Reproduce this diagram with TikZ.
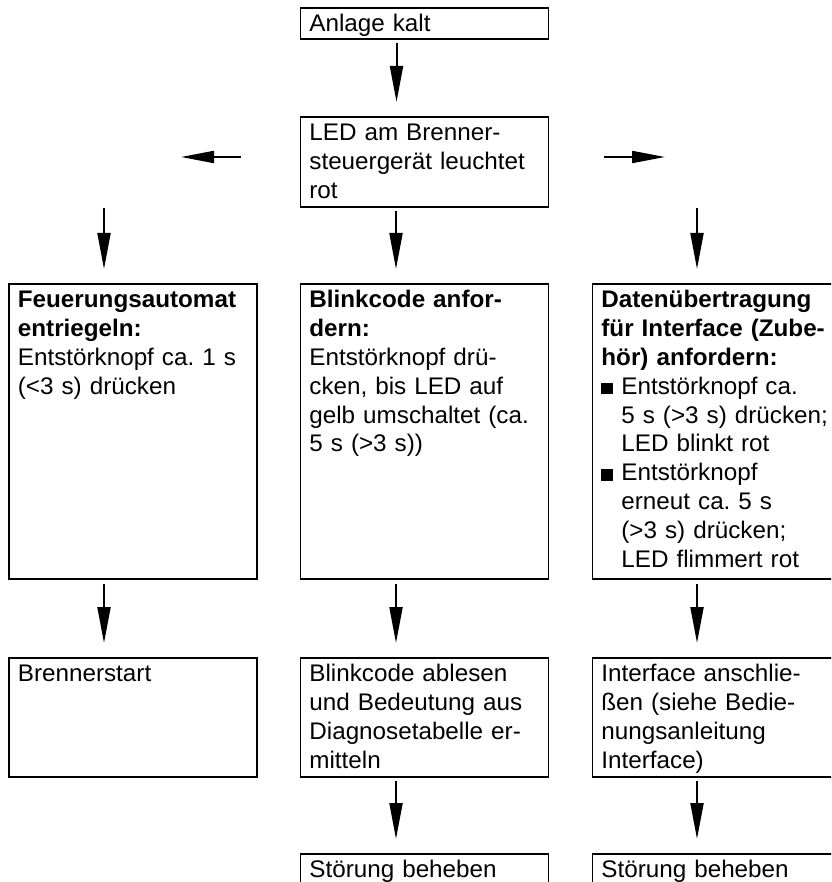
\documentclass[tikz,border=0pt]{standalone}
\usepackage{fontspec}
\setmainfont{Liberation Sans}[FakeStretch=1.01]
\usetikzlibrary{arrows.meta}
\newcommand{\sqitem}{\makebox[20pt][l]{\rule{11.5pt}{11.5pt}}}
\newcommand{\sqskip}{\hspace*{20pt}}

\begin{document}
\begin{tikzpicture}[x=1pt,y=-1pt,
    box/.style={draw, line width=1.8pt, anchor=north west, inner xsep=9pt, inner ysep=0pt,
      text width=230pt, align=left, text height=24pt, font=\fontsize{24}{28.8}\selectfont\frenchspacing},
    wide/.style={text width=260pt},
    arr/.style={line width=2pt, -{Triangle[length=36pt,width=13pt]}},
    sidearr/.style={line width=2pt, -{Triangle[length=33pt,width=12pt]}}]
    \useasboundingbox (0,0) rectangle (831,882);
    \clip (0,0) rectangle (831,882);
    \node[box, text depth=7pt] (kalt) at (299.5,7) {Anlage kalt};
    \node[box, text depth=66pt] (led) at (299.5,116) {LED am Brenner-\\steuergerät leuchtet\\rot};
    \node[box, text depth=271pt] (entr) at (8,283) {{\bfseries Feuerungsautomat\\entriegeln:}\\Entstörknopf ca. 1 s\\(<3 s) drücken};
    \node[box, text depth=271pt] (blink) at (299.5,283) {{\bfseries Blinkcode anfor-\\dern:}\\Entstörknopf drü-\\cken, bis LED auf\\gelb umschaltet (ca.\\5 s (>3 s))};
    \node[box, wide, text depth=271pt] (daten) at (591.5,283) {{\bfseries Datenübertragung\\für Interface (Zube-\\hör) anfordern:}\\
      \sqitem Entstörknopf ca.\\\sqskip 5 s (>3 s) drücken;\\\sqskip LED blinkt rot\\
      \sqitem Entstörknopf\\\sqskip erneut ca. 5 s\\\sqskip (>3 s) drücken;\\\sqskip LED flimmert rot};
    \node[box, text depth=95pt] (start) at (8,657) {Brennerstart};
    \node[box, text depth=95pt] (ablesen) at (299.5,657) {Blinkcode ablesen\\und Bedeutung aus\\Diagnosetabelle er-\\mitteln};
    \node[box, wide, text depth=95pt] (anschl) at (591.5,657) {Interface anschlie-\\ßen (siehe Bedie-\\nungsanleitung\\Interface)};
    \node[box, text depth=20pt] (beheb1) at (299.5,853) {Störung beheben};
    \node[box, wide, text depth=20pt] (beheb2) at (591.5,853) {Störung beheben};

    \coordinate (wa) at (241,157);
    \coordinate (wb) at (181,157);
    \coordinate (ea) at (604,157);
    \coordinate (eb) at (665,157);
    \coordinate (lt) at (104,208);
    \coordinate (rt) at (697,208);

    \draw[sidearr] (wa) -- (wb);
    \draw[sidearr] (ea) -- (eb);
    \draw[arr] ([xshift=97pt,yshift=-3pt]kalt.south west) -- ([xshift=97pt,yshift=14pt]led.north west);
    \draw[arr] ([xshift=96.5pt,yshift=-3pt]led.south west) -- ([xshift=96.5pt,yshift=14pt]blink.north west);
    \draw[arr] (lt) -- ([xshift=96pt,yshift=14pt]entr.north west);
    \draw[arr] (rt) -- ([xshift=105.5pt,yshift=14pt]daten.north west);
    \draw[arr] ([xshift=96pt,yshift=-4pt]entr.south west) -- ([xshift=96pt,yshift=14pt]start.north west);
    \draw[arr] ([xshift=96.5pt,yshift=-4pt]blink.south west) -- ([xshift=96.5pt,yshift=14pt]ablesen.north west);
    \draw[arr] ([xshift=105.5pt,yshift=-4pt]daten.south west) -- ([xshift=105.5pt,yshift=14pt]anschl.north west);
    \draw[arr] ([xshift=96.5pt,yshift=-3pt]ablesen.south west) -- ([xshift=96.5pt,yshift=14pt]beheb1.north west);
    \draw[arr] ([xshift=105.5pt,yshift=-3pt]anschl.south west) -- ([xshift=105.5pt,yshift=14pt]beheb2.north west);
\end{tikzpicture}
\end{document}
